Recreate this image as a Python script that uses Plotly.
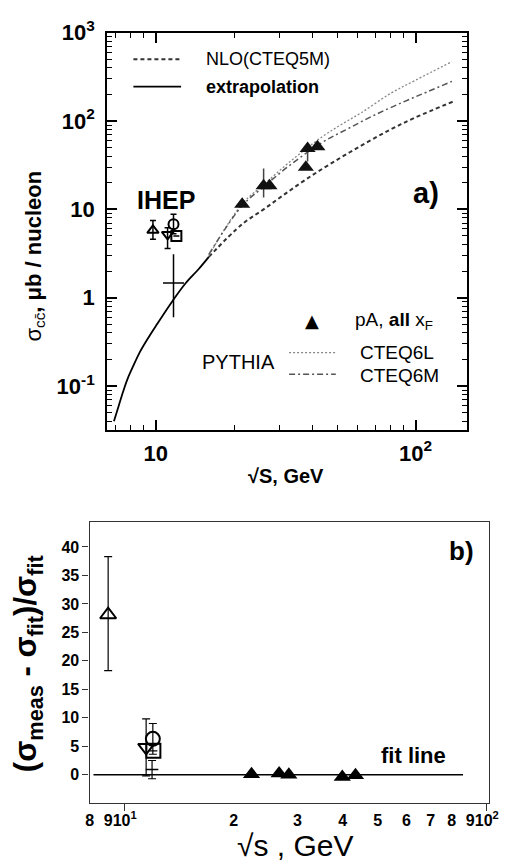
import plotly.graph_objects as go

W, H = 519, 868
FONT = "Liberation Sans, Arial, sans-serif"

# ---------------- panel a) data ----------------
extrap_x = [6.9, 7.2, 7.5, 7.8, 8.2, 8.7, 9.4, 10.1, 11.6, 13.0, 14.6, 16.0]
extrap_y = [0.040, 0.060, 0.088, 0.122, 0.17, 0.245, 0.36, 0.50, 0.92, 1.45, 2.1, 2.9]

nlo_x = [16, 21.5, 26, 31, 38, 48, 62, 80, 100, 140]
nlo_y = [2.9, 6.8, 10, 14.5, 22, 34, 53, 80, 110, 167]

cteq6l_x = [16, 21.5, 26, 33, 43.6, 52, 62, 80, 100, 138]
cteq6l_y = [3.0, 11.5, 19, 35, 66, 92, 125, 205, 290, 470]

cteq6m_x = [16, 21.5, 26, 33, 43.6, 55, 70, 90, 110, 138]
cteq6m_y = [3.1, 11, 18, 32, 57, 82, 118, 165, 212, 281]

pa_top_x = [21.5, 26.0, 27.4, 37.8, 38.4, 41.9]
pa_top_y = [11.4, 18.5, 18.5, 30.0, 48.9, 51.0]
pa_top_eup = [0, 10.5, 0, 0, 0, 0]
pa_top_edn = [0, 4.9, 0, 0, 14, 0]

ihep_top_sym = ["triangle-up-open", "triangle-down-open", "circle-open", "square-open"]
ihep_top_x = [9.75, 11.1, 11.7, 12.0]
ihep_top_y = [5.8, 5.2, 6.8, 5.0]
ihep_top_eup = [1.7, 1.0, 2.0, 0]
ihep_top_edn = [1.2, 1.6, 1.5, 0]

plus_top_x = [11.7]
plus_top_y = [1.47]
plus_top_eup = [1.63]
plus_top_edn = [0.87]

# ---------------- panel b) data ----------------
ihep_b_sym = ["triangle-up-open", "triangle-down-open", "circle-open", "square-open"]
ihep_b_x = [9.0, 11.46, 11.96, 12.0]
ihep_b_y = [28.1, 4.8, 6.3, 4.2]
ihep_b_eup = [10.2, 5.0, 2.7, 0]
ihep_b_edn = [9.8, 5.0, 2.7, 0]

plus_b_x = [11.9]
plus_b_y = [0.9]
plus_b_err = [1.6]

pa_b_x = [22.4, 26.7, 28.4, 39.9, 43.4]
pa_b_y = [0.1, 0.2, 0.0, -0.4, -0.1]

fit_x = [8.2, 86.0]
fit_y = [0.0, 0.0]

# tick labels
ya_vals = [0.1, 1, 10, 100, 1000]
ya_text = ["10<sup>-1</sup>", "1", "10", "10<sup>2</sup>", "10<sup>3</sup>"]
xa_vals = [10, 100]
xa_text = ["10", "10<sup>2</sup>"]
xb_vals = [8, 9, 10, 20, 30, 40, 50, 60, 70, 80, 90, 100]
xb_text = ["8", "9", "10<sup>1</sup>", "2", "3", "4", "5", "6", "7", "8", "9", "10<sup>2</sup>"]
yb_vals = [0, 5, 10, 15, 20, 25, 30, 35, 40]


def px(x):
    return x / W


def py(y):
    return 1 - y / H


fig = go.Figure()

# panel a curves
fig.add_trace(go.Scatter(x=extrap_x, y=extrap_y, mode="lines", line=dict(color="black", width=1.8, shape="spline", smoothing=1.0),
                         xaxis="x", yaxis="y", showlegend=False))
fig.add_trace(go.Scatter(x=nlo_x, y=nlo_y, mode="lines", line=dict(color="#333", width=2, dash="4px,3px", shape="spline"),
                         xaxis="x", yaxis="y", showlegend=False))
fig.add_trace(go.Scatter(x=cteq6l_x, y=cteq6l_y, mode="lines", line=dict(color="#888", width=1.3, dash="2px,2px", shape="spline"),
                         xaxis="x", yaxis="y", showlegend=False))
fig.add_trace(go.Scatter(x=cteq6m_x, y=cteq6m_y, mode="lines", line=dict(color="#555", width=1.5, dash="6px,3px,2px,3px", shape="spline"),
                         xaxis="x", yaxis="y", showlegend=False))

# panel a points
fig.add_trace(go.Scatter(x=pa_top_x, y=pa_top_y, mode="markers",
                         marker=dict(symbol="triangle-up", size=14, color="#111"),
                         error_y=dict(type="data", array=pa_top_eup, arrayminus=pa_top_edn, color="#444", thickness=1.5, width=0),
                         xaxis="x", yaxis="y", showlegend=False))
for s, xx, yy, eu, ed in zip(ihep_top_sym, ihep_top_x, ihep_top_y, ihep_top_eup, ihep_top_edn):
    fig.add_trace(go.Scatter(x=[xx], y=[yy], mode="markers",
                             marker=dict(symbol=s, size=10, color="black", line=dict(width=2, color="black")),
                             error_y=dict(type="data", array=[eu], arrayminus=[ed], color="black", thickness=1.5, width=3),
                             xaxis="x", yaxis="y", showlegend=False))
fig.add_trace(go.Scatter(x=plus_top_x, y=plus_top_y, mode="markers",
                         marker=dict(symbol="line-ew-open", size=15, color="black", line=dict(width=1.5, color="black")),
                         error_y=dict(type="data", array=plus_top_eup, arrayminus=plus_top_edn, color="black", thickness=1.5, width=0),
                         xaxis="x", yaxis="y", showlegend=False))

# panel b
fig.add_trace(go.Scatter(x=fit_x, y=fit_y, mode="lines", line=dict(color="black", width=1.5),
                         xaxis="x2", yaxis="y2", showlegend=False))
for s, xx, yy, eu, ed in zip(ihep_b_sym, ihep_b_x, ihep_b_y, ihep_b_eup, ihep_b_edn):
    fig.add_trace(go.Scatter(x=[xx], y=[yy], mode="markers",
                             marker=dict(symbol=s, size=14, color="black", line=dict(width=2, color="black")),
                             error_y=dict(type="data", array=[eu], arrayminus=[ed], color="black", thickness=1.2, width=4),
                             xaxis="x2", yaxis="y2", showlegend=False))
fig.add_trace(go.Scatter(x=plus_b_x, y=plus_b_y, mode="markers",
                         marker=dict(symbol="line-ew-open", size=9, color="black", line=dict(width=1.5, color="black")),
                         error_y=dict(type="data", array=plus_b_err, color="black", thickness=1.2, width=4),
                         xaxis="x2", yaxis="y2", showlegend=False))
fig.add_trace(go.Scatter(x=pa_b_x, y=pa_b_y, mode="markers",
                         marker=dict(symbol="triangle-up", size=15, color="black"),
                         xaxis="x2", yaxis="y2", showlegend=False))

# minor tick positions for log axes
minor_x_top = [7, 8, 9] + [k * 10 for k in range(2, 10)]
minor_y_top = []
for dec in [0.01, 0.1, 1, 10, 100]:
    minor_y_top += [k * dec for k in range(2, 10)]

tickfont_a = dict(family=FONT, size=22, color="black", weight="bold")
tickfont_b = dict(family=FONT, size=16, color="black", weight="bold")

fig.update_layout(
    width=W, height=H,
    margin=dict(l=0, r=0, t=0, b=0),
    paper_bgcolor="white", plot_bgcolor="white",
    xaxis=dict(type="log", range=[0.8127, 2.1985], domain=[px(106), px(476)], anchor="y",
               showline=True, linewidth=2, linecolor="black", mirror="allticks",
               ticks="inside", ticklen=10, tickwidth=1.5, tickcolor="black",
               tickvals=xa_vals, ticktext=xa_text, tickfont=tickfont_a, ticklabelstandoff=2, tickangle=0,
               minor=dict(ticks="inside", ticklen=5, tickwidth=1.2, tickcolor="black", tickvals=minor_x_top, showgrid=False),
               showgrid=False, zeroline=False),
    yaxis=dict(type="log", range=[-1.5, 3.0], domain=[py(422), py(17)], anchor="x",
               showline=True, linewidth=2, linecolor="black", mirror="allticks",
               ticks="inside", ticklen=10, tickwidth=1.5, tickcolor="black",
               tickvals=ya_vals, ticktext=ya_text, tickfont=tickfont_a, ticklabelstandoff=6,
               minor=dict(ticks="inside", ticklen=5, tickwidth=1.2, tickcolor="black", tickvals=minor_y_top, showgrid=False),
               showgrid=False, zeroline=False),
    xaxis2=dict(type="log", range=[0.9031, 2.005], domain=[px(88), px(498)], anchor="y2",
                showline=True, linewidth=1.3, linecolor="#333", mirror=True,
                ticks="", tickvals=xb_vals, ticktext=xb_text, tickfont=tickfont_b, ticklabelstandoff=2, tickangle=0,
                minor=dict(ticks="outside", ticklen=7, tickwidth=1.3, tickcolor="#333", tickvals=[10, 100], showgrid=False),
                showgrid=False, zeroline=False),
    yaxis2=dict(range=[-5, 44.3], domain=[py(802), py(516)], anchor="x2",
                showline=True, linewidth=1.3, linecolor="#333", mirror=True,
                ticks="outside", ticklen=6, tickwidth=1.3, tickcolor="#333",
                tickvals=yb_vals, tickfont=tickfont_b,
                showgrid=False, zeroline=False),
)

# legend samples (panel a)
legend_lines = [
    (133, 182, 44, dict(color="#333", width=2, dash="4px,3px")),
    (133, 182, 72, dict(color="black", width=1.8)),
    (293, 341, 343, dict(color="#888", width=1.3, dash="2px,2px")),
    (293, 341, 365, dict(color="#555", width=1.5, dash="6px,3px,2px,3px")),
]
for x0, x1, yy, ln in legend_lines:
    fig.add_shape(type="line", xref="paper", yref="paper", x0=px(x0), x1=px(x1), y0=py(yy), y1=py(yy), line=ln)

anns = [
    ("NLO(CTEQ5M)", 206, 44, 18, "left", FONT),
    ("<b>extrapolation</b>", 206, 72, 18, "left", FONT),
    ("<b>IHEP</b>", 167, 187, 25, "center", FONT),
    ("<b>a)</b>", 434, 180, 29, "center", FONT),
    ("▲", 317, 310, 18, "center", "DejaVu Sans"),
    ("pA, <b>all</b> x<sub>F</sub>", 359, 311, 19, "left", FONT),
    ("PYTHIA", 201, 353, 20, "left", FONT),
    ("CTEQ6L", 364, 343, 19, "left", FONT),
    ("CTEQ6M", 364, 366, 19, "left", FONT),
    ("<b>√S, GeV</b>", 290, 469, 20, "center", FONT),
    ("<b>b)</b>", 470, 545, 26, "center", FONT),
    ("<b>fit line</b>", 421, 753, 22, "center", FONT),
    ("√s , GeV", 300, 845, 30, "center", FONT),
]
for txt, x, y, sz, anc, fam in anns:
    fig.add_annotation(text=txt, xref="paper", yref="paper", x=px(x), y=py(y), xanchor=anc, yanchor="middle",
                       showarrow=False, font=dict(family=fam, size=sz, color="black"))

# y titles
fig.add_annotation(text="σ<sub>cc̄</sub><b>, μb / nucleon</b>", xref="paper", yref="paper",
                   x=px(32), y=py(245), textangle=-90, xanchor="center", yanchor="middle", showarrow=False,
                   font=dict(family=FONT, size=22, color="black"))
fig.add_annotation(text="<b>(σ<sub>meas</sub> - σ<sub>fit</sub>)/σ<sub>fit</sub></b>", xref="paper", yref="paper",
                   x=px(25), y=py(660), textangle=-90, xanchor="center", yanchor="middle", showarrow=False,
                   font=dict(family=FONT, size=31, color="black"))

fig.write_html("out.html")
